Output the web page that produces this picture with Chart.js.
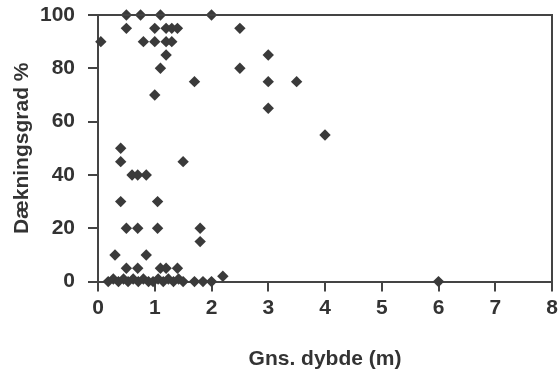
<!DOCTYPE html>
<html>
<head>
<meta charset="utf-8">
<script src="https://cdn.jsdelivr.net/npm/chart.js@4/dist/chart.umd.min.js"></script>
<style>
  html, body { margin: 0; padding: 0; background: #fff; }
  #wrap { width: 558px; height: 375px; }
</style>
</head>
<body>
<div id="wrap"><canvas id="scatter" width="558" height="375"></canvas></div>
<script>
// mean depth (m) and cover (%) per station
const depth = [
  0.5, 0.75, 1.1, 2.0,
  0.5, 1.0, 1.2, 1.3, 1.4, 2.5,
  0.05, 0.8, 1.0, 1.2, 1.3,
  1.2, 3.0,
  1.1, 2.5,
  1.7, 3.0, 3.5,
  1.0, 3.0, 4.0,
  0.4, 0.4, 1.5,
  0.6, 0.7, 0.85,
  0.4, 1.05,
  0.5, 0.7, 1.05, 1.8,
  1.8,
  0.3, 0.85,
  0.5, 0.7, 1.1, 1.2, 1.4,
  2.2, 6.0,
  0.18, 0.27, 0.36, 0.45, 0.53, 0.62, 0.71, 0.8, 0.89, 0.97,
  1.06, 1.15, 1.24, 1.33, 1.42, 1.5, 1.7, 1.85, 2.0
];
const cover = [
  100, 100, 100, 100,
  95, 95, 95, 95, 95, 95,
  90, 90, 90, 90, 90,
  85, 85,
  80, 80,
  75, 75, 75,
  70, 65, 55,
  50, 45, 45,
  40, 40, 40,
  30, 30,
  20, 20, 20, 20,
  15,
  10, 10,
  5, 5, 5, 5, 5,
  2, 0,
  0, 1, 0, 1, 0, 1, 0, 1, 0, 0,
  1, 0, 1, 0, 1, 0, 0, 0, 0
];

const xTicks = [0, 1, 2, 3, 4, 5, 6, 7, 8];
const yTicks = [0, 20, 40, 60, 80, 100];

const ink = "#333";
const lineInk = "#444";
const font = { family: "'Liberation Sans', Arial, sans-serif", size: 21, weight: "bold" };

// top and right edge of the frame
const frame = {
  id: "frame",
  afterDraw(chart) {
    const { ctx, chartArea: a } = chart;
    ctx.save();
    ctx.strokeStyle = lineInk;
    ctx.lineWidth = 2;
    ctx.beginPath();
    ctx.moveTo(a.left, a.top);
    ctx.lineTo(a.right, a.top);
    ctx.lineTo(a.right, a.bottom);
    ctx.stroke();
    ctx.restore();
  }
};

const ctx = document.getElementById("scatter").getContext("2d");
new Chart(ctx, {
  type: "scatter",
  data: {
    datasets: [
      {
        data: depth.map((d, i) => ({ x: d, y: cover[i] })),
        pointStyle: "rectRot",
        pointRadius: 5.7,
        backgroundColor: "#3a3a3a",
        borderColor: "#3a3a3a",
        borderWidth: 0,
        clip: false
      }
    ]
  },
  options: {
    responsive: false,
    animation: false,
    layout: { padding: { left: 10, right: 0, top: 0, bottom: 3 } },
    plugins: { legend: { display: false }, tooltip: { enabled: false } },
    scales: {
      x: {
        type: "linear",
        min: 0,
        max: 8,
        afterBuildTicks: (ax) => { ax.ticks = xTicks.map((v) => ({ value: v })); },
        afterFit: (ax) => { ax.paddingRight = 6; ax.paddingLeft = 0; },
        grid: { drawOnChartArea: false, drawTicks: true, tickLength: 10, color: lineInk, lineWidth: 2 },
        border: { display: true, color: lineInk, width: 2 },
        ticks: { color: ink, font, padding: 4 },
        title: { display: true, text: "Gns. dybde (m)", color: ink, font, padding: { top: 22, bottom: 0 } }
      },
      y: {
        type: "linear",
        min: 0,
        max: 100,
        afterBuildTicks: (ax) => { ax.ticks = yTicks.map((v) => ({ value: v })); },
        afterFit: (ax) => { ax.paddingTop = 15; ax.paddingBottom = 0; ax.width = 88; },
        grid: { drawOnChartArea: false, drawTicks: true, tickLength: 10, color: lineInk, lineWidth: 2 },
        border: { display: true, color: lineInk, width: 2 },
        ticks: { color: ink, font, padding: 13 },
        title: { display: true, text: "Dækningsgrad %", color: ink, font, padding: { top: 0, bottom: 8 } }
      }
    }
  },
  plugins: [frame]
});
</script>
</body>
</html>
